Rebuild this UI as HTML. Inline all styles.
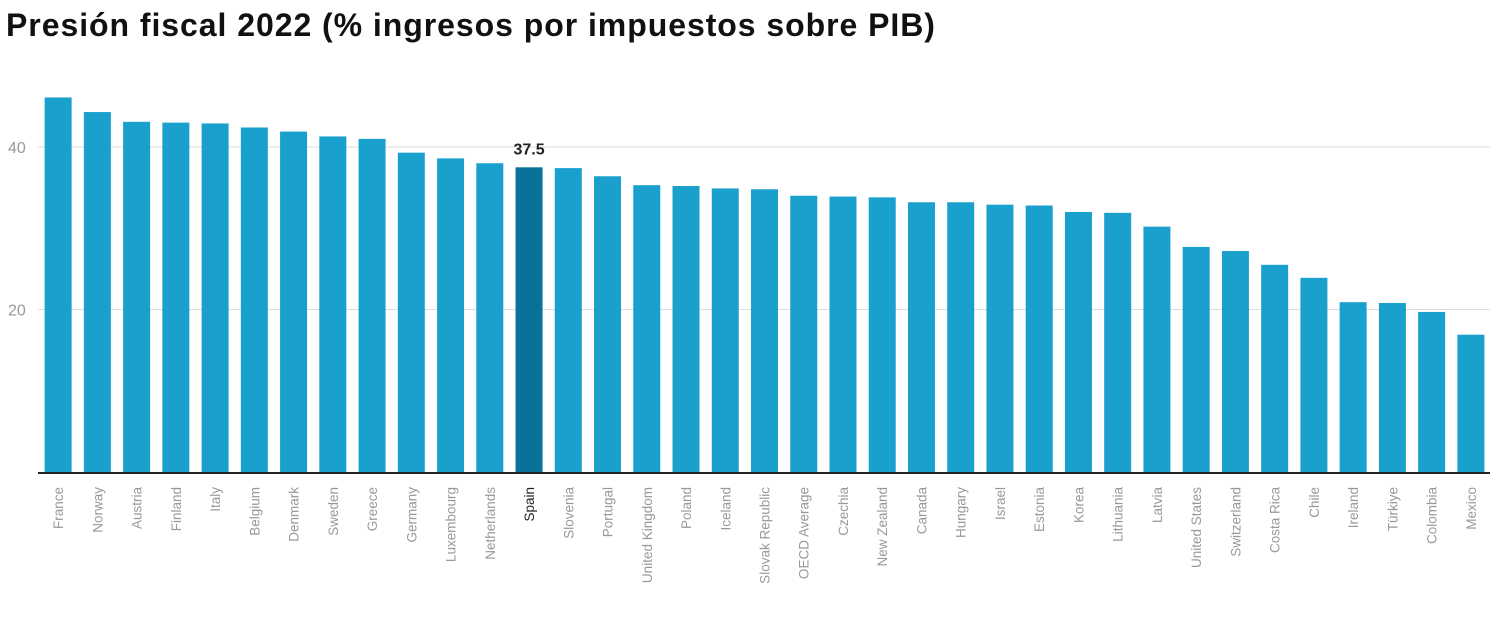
<!DOCTYPE html>
<html><head><meta charset="utf-8">
<style>
body{margin:0;background:#fff;font-family:"Liberation Sans",sans-serif;}
#title{position:absolute;left:6px;top:7px;font-size:32px;font-weight:bold;color:#111;letter-spacing:0.95px;}
svg{position:absolute;left:0;top:0;}
</style></head><body>
<div id="title">Presión fiscal 2022 (% ingresos por impuestos sobre PIB)</div>
<svg id="chart" width="1500" height="637"></svg>
<script>
const categories=["France","Norway","Austria","Finland","Italy","Belgium","Denmark","Sweden","Greece","Germany","Luxembourg","Netherlands","Spain","Slovenia","Portugal","United Kingdom","Poland","Iceland","Slovak Republic","OECD Average","Czechia","New Zealand","Canada","Hungary","Israel","Estonia","Korea","Lithuania","Latvia","United States","Switzerland","Costa Rica","Chile","Ireland","Türkiye","Colombia","Mexico"];
const values=[46.1,44.3,43.1,43.0,42.9,42.4,41.9,41.3,41.0,39.3,38.6,38.0,37.5,37.4,36.4,35.3,35.2,34.9,34.8,34.0,33.9,33.8,33.2,33.2,32.9,32.8,32.0,31.9,30.2,27.7,27.2,25.5,23.9,20.9,20.8,19.7,16.9];
const ticks=[20,40];
const highlight="Spain";
const NS="http://www.w3.org/2000/svg";
const svg=document.getElementById('chart');
const x0=38,plotW=1490-38,baseY=472,pxPer=8.125;
const step=plotW/categories.length,bw=27;
const y=v=>baseY-v*pxPer;
const xc=i=>x0+step*i+step/2+0.5;
function mk(t,a){const e=document.createElementNS(NS,t);for(const k in a)e.setAttribute(k,a[k]);svg.appendChild(e);return e;}
ticks.forEach(t=>{
 const l=mk('line',{x1:x0,x2:1490,y1:y(t),y2:y(t),stroke:'#ddd','stroke-width':1});
 
 
 const tx=mk('text',{x:8,y:y(t)+6,'font-size':16,fill:'#999'});tx.textContent=t;
 
 
});
categories.forEach((c,i)=>{
 const v=values[i],hl=c===highlight;
 const r=mk('rect',{x:xc(i)-bw/2,y:y(v),width:bw,height:v*pxPer,fill:hl?'#0a7299':'#1aa0cc'});
 
 
 const t=mk('text',{x:0,y:0,'font-size':13.5,fill:hl?'#222':'#999','text-anchor':'end',transform:`translate(${xc(i)+5},${baseY+15}) rotate(-90)`});
 t.textContent=c;
 
 
 if(hl){const lb=mk('text',{x:xc(i),y:y(v)-13,'font-size':16,'font-weight':'bold',fill:'#222','text-anchor':'middle'});lb.textContent=v.toFixed(1);
 
 }
});
const ax=mk('line',{x1:x0,x2:1490,y1:baseY+1,y2:baseY+1,stroke:'#222','stroke-width':2});


</script>
</body></html>
